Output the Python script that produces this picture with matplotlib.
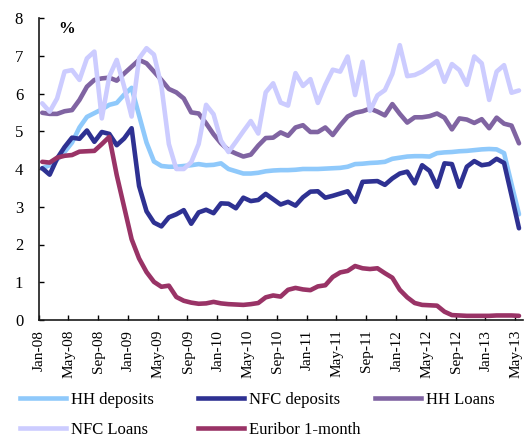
import numpy as np
import matplotlib
matplotlib.use("Agg")
import matplotlib.pyplot as plt
import matplotlib.transforms as mtransforms
from matplotlib.lines import Line2D

plt.rcParams["font.family"] = ["Liberation Serif", "DejaVu Serif"]

months = [f"{m}-{y:02d}" for y in range(8, 14)
          for m in ["Jan", "Feb", "Mar", "Apr", "May", "Jun",
                    "Jul", "Aug", "Sep", "Oct", "Nov", "Dec"]][:65]

hh_deposits = [4.02, 4.10, 4.25, 4.45, 4.70, 5.10, 5.38, 5.48, 5.58, 5.70,
               5.75, 5.97, 6.15, 5.42, 4.70, 4.20, 4.08, 4.06, 4.06, 4.08,
               4.10, 4.13, 4.10, 4.11, 4.15, 4.00, 3.94, 3.88, 3.88, 3.90,
               3.94, 3.96, 3.97, 3.97, 3.98, 4.00, 4.00, 4.00, 4.01, 4.02,
               4.03, 4.06, 4.13, 4.14, 4.16, 4.17, 4.19, 4.27, 4.30, 4.33,
               4.34, 4.34, 4.33, 4.42, 4.44, 4.45, 4.47, 4.48, 4.50, 4.52,
               4.53, 4.52, 4.42, 3.60, 2.80]

nfc_deposits = [4.02, 3.85, 4.28, 4.58, 4.83, 4.80, 5.02, 4.72, 4.98, 4.93,
                4.63, 4.81, 5.08, 3.55, 2.88, 2.58, 2.48, 2.72, 2.80, 2.91,
                2.55, 2.85, 2.92, 2.83, 3.09, 3.08, 2.96, 3.24, 3.15, 3.18,
                3.34, 3.20, 3.06, 3.13, 3.03, 3.25, 3.40, 3.41, 3.24, 3.29,
                3.35, 3.41, 3.13, 3.66, 3.67, 3.68, 3.58, 3.75, 3.88, 3.93,
                3.62, 4.10, 3.95, 3.53, 4.15, 4.13, 3.53, 4.06, 4.21, 4.10,
                4.13, 4.27, 4.16, 3.30, 2.43]

hh_loans = [5.49, 5.46, 5.46, 5.53, 5.56, 5.83, 6.18, 6.36, 6.40, 6.42,
            6.34, 6.53, 6.71, 6.89, 6.80, 6.58, 6.36, 6.12, 6.03, 5.87,
            5.50, 5.47, 5.21, 4.92, 4.68, 4.50, 4.41, 4.33, 4.38, 4.62,
            4.82, 4.83, 4.97, 4.88, 5.10, 5.16, 4.98, 4.98, 5.10, 4.90,
            5.16, 5.39, 5.49, 5.53, 5.60, 5.52, 5.42, 5.72, 5.46, 5.23,
            5.37, 5.37, 5.40, 5.47, 5.36, 5.05, 5.34, 5.31, 5.22, 5.32,
            5.08, 5.36, 5.20, 5.15, 4.68]

nfc_loans = [5.74, 5.52, 5.87, 6.58, 6.62, 6.36, 6.93, 7.11, 5.34, 6.45,
             6.89, 6.18, 5.39, 6.93, 7.20, 7.03, 6.20, 4.66, 4.00, 4.00,
             4.18, 4.66, 5.70, 5.45, 4.75, 4.45, 4.72, 5.00, 5.27, 4.94,
             6.03, 6.27, 5.76, 5.68, 6.54, 6.20, 6.38, 5.75, 6.23, 6.63,
             6.58, 6.98, 5.96, 6.84, 5.54, 5.95, 6.09, 6.52, 7.28, 6.46,
             6.49, 6.58, 6.72, 6.86, 6.31, 6.78, 6.62, 6.23, 6.98, 6.80,
             5.83, 6.58, 6.75, 6.02, 6.08]

euribor_1m = [4.19, 4.17, 4.30, 4.35, 4.37, 4.46, 4.47, 4.48, 4.66, 4.85,
              3.84, 2.99, 2.14, 1.63, 1.27, 1.01, 0.88, 0.91, 0.61, 0.51,
              0.46, 0.43, 0.44, 0.48, 0.44, 0.42, 0.41, 0.40, 0.42, 0.45,
              0.60, 0.65, 0.62, 0.80, 0.85, 0.81, 0.79, 0.89, 0.92, 1.14,
              1.26, 1.30, 1.43, 1.37, 1.35, 1.37, 1.24, 1.12, 0.80, 0.60,
              0.45, 0.40, 0.39, 0.38, 0.22, 0.13, 0.12, 0.11, 0.11, 0.11,
              0.11, 0.12, 0.12, 0.12, 0.11]

series = [
    ("HH deposits", hh_deposits, "#8fc9fb"),
    ("NFC deposits", nfc_deposits, "#2e3192"),
    ("HH Loans", hh_loans, "#8064a2"),
    ("NFC Loans", nfc_loans, "#ccccff"),
    ("Euribor 1-month", euribor_1m, "#993366"),
]

W, H = 525, 438
fig = plt.figure(figsize=(W / 100, H / 100), dpi=100)
ax = fig.add_axes([38.5 / W, 1 - 320 / H, 484.2 / W, 302 / H])

x = np.arange(len(months))
handles = {}
for name, vals, col in series:
    ln, = ax.plot(x, vals, color=col, lw=3.3, solid_joinstyle="round",
                  solid_capstyle="round", label=name)
    handles[name] = ln

ax.set_xlim(-0.5, len(months) - 0.5)
ax.set_ylim(0, 8)
ax.set_yticks(range(0, 9))
ax.set_yticklabels([str(v) for v in range(0, 9)], fontsize=12)

# tick marks sit between categories, labels sit on every 4th category
ax.set_xticks(np.arange(-0.5, len(months) - 1, 4))
ax.set_xticklabels([])
ax.set_xticks(x[::4], minor=True)
ax.set_xticklabels(months[::4], minor=True, rotation=90, fontsize=11)
ax.tick_params(axis="x", which="major", direction="in", length=3.5, width=1)
ax.tick_params(axis="x", which="minor", length=0, pad=7)
ax.tick_params(axis="y", direction="in", length=3.5, width=1, pad=11)
shift = mtransforms.ScaledTranslation(-3 / 100, 0, fig.dpi_scale_trans)
for lab in ax.get_xticklabels(minor=True):
    lab.set_transform(lab.get_transform() + shift)

for s in ("top", "right"):
    ax.spines[s].set_visible(False)
for s in ("left", "bottom"):
    ax.spines[s].set_linewidth(1.2)
    ax.spines[s].set_color("#1a1a1a")

ax.text(0.057, 0.962, "%", transform=ax.transAxes, fontsize=12,
        fontweight="bold", ha="center", va="center")

cols = [["HH deposits", "NFC Loans"], ["NFC deposits", "Euribor 1-month"],
        ["HH Loans"]]
col_x = [20, 198, 375]
for names, cx in zip(cols, col_x):
    hs = [Line2D([], [], color=handles[n].get_color(), lw=3.3) for n in names]
    fig.legend(hs, names, loc="upper left",
               bbox_to_anchor=(cx / W, 1 - 392 / H), frameon=False,
               borderpad=0, borderaxespad=0, handlelength=2.75,
               handletextpad=0.3, labelspacing=0.85, fontsize=12)

fig.savefig("out.png", dpi=100, facecolor="white")
